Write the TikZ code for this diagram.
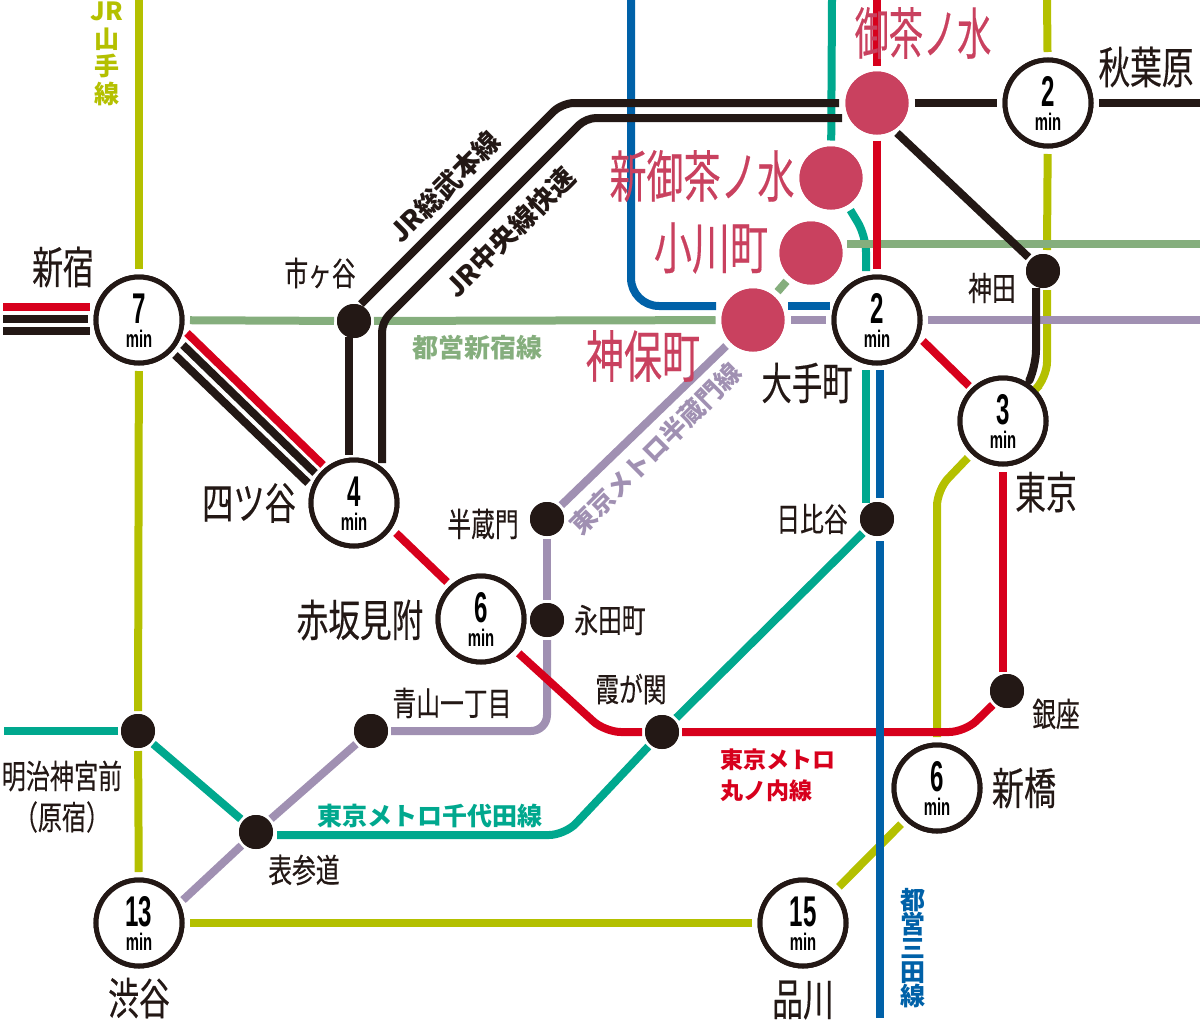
\documentclass[tikz,border=0pt]{standalone}
\usepackage{fontspec}
\usepackage{graphicx}
\setmainfont{Noto Sans CJK JP}
\newfontfamily\stf{Noto Sans CJK JP}[FakeBold=0.35]
\newfontfamily\latinf{Liberation Sans}
\definecolor{lred}{HTML}{D7001C}
\definecolor{lteal}{HTML}{00A88E}
\definecolor{lblue}{HTML}{0061A8}
\definecolor{lyel}{HTML}{B4C000}
\definecolor{lgreen}{HTML}{85AE7D}
\definecolor{lpur}{HTML}{A090B2}
\definecolor{lblk}{HTML}{231815}
\definecolor{lpink}{HTML}{C9415F}
\newcommand\hsq[2]{\scalebox{#1}[1]{#2}}
\newcommand\tmin[1]{\makebox[0pt][c]{\smash{\raisebox{-3pt}{\hsq{.56}{\latinf\bfseries\fontsize{43}{43}\selectfont #1}}}}\makebox[0pt][c]{\smash{\raisebox{-27pt}{\hsq{.62}{\latinf\bfseries\fontsize{24}{24}\selectfont min}}}}}
\tikzset{
  tube/.style={line width=8pt,line cap=butt,line join=round,rounded corners=16pt},
  timest/.style={circle,draw=lblk,fill=white,line width=5pt,minimum size=86pt,inner sep=0pt,outer sep=8pt},
  dotst/.style={circle,fill=lblk,minimum size=34pt,inner sep=0pt,outer sep=3pt},
  pinkst/.style={circle,fill=lpink,minimum size=63pt,inner sep=0pt,outer sep=6pt},
  bigt/.style={inner sep=0pt,text=lblk,font=\stf\fontsize{44}{44}\selectfont},
  midt/.style={inner sep=0pt,text=lblk,font=\stf\fontsize{33}{33}\selectfont},
  pinkt/.style={inner sep=0pt,text=lpink,font=\stf\fontsize{56}{56}\selectfont},
  linet/.style={inner sep=0pt,font=\fontsize{24}{26}\selectfont\bfseries},
}
\begin{document}
\begin{tikzpicture}[x=1pt,y=-1pt]
\useasboundingbox (0,0) rectangle (1200,1023);
\node[timest] (shinjuku) at (139,320) {};
\node[timest] (yotsuya) at (354,503) {};
\node[timest] (akasaka) at (481,619) {};
\node[timest] (otemachi) at (877,320) {};
\node[timest] (tokyo) at (1003,421) {};
\node[timest] (akiba) at (1048,103) {};
\node[timest] (shinbashi) at (937,788) {};
\node[timest] (shibuya) at (139,923) {};
\node[timest] (shinagawa) at (803,923) {};
\node[dotst] (ichigaya) at (354,321) {};
\node[dotst] (kanda) at (1043,271) {};
\node[dotst] (hanzomon) at (547,519) {};
\node[dotst] (nagatacho) at (547,620) {};
\node[dotst] (hibiya) at (877,519) {};
\node[dotst] (ginza) at (1007,691) {};
\node[dotst] (kasumi) at (662,732) {};
\node[dotst] (aoyama) at (371,731) {};
\node[dotst] (omote) at (256,832) {};
\node[dotst] (meiji) at (138,731) {};
\node[pinkst] (ocha) at (877,103) {};
\node[pinkst] (shinocha) at (831,178) {};
\node[pinkst] (ogawa) at (811,253) {};
\node[pinkst] (jimbo) at (753,320) {};
% free ends
\coordinate (ytop) at (139,0);
\coordinate (ytop2) at (1047,0);
\coordinate (ya) at (1047,250);
\coordinate (yb) at (1047,290);
\coordinate (yc) at (1047,378);
\coordinate (yd) at (937,490);
\coordinate (ye) at (937,737);
\coordinate (ta) at (832,0);
\coordinate (tb) at (866,236);
\coordinate (tc) at (866,271);
\coordinate (td) at (866,370);
\coordinate (te) at (866,503);
\coordinate (tf) at (565,835);
\coordinate (tg) at (277,835);
\coordinate (th) at (4,731);
\coordinate (ga) at (847,244);
\coordinate (gb) at (1200,244);
\coordinate (pa) at (1200,320);
\coordinate (pb) at (547,731);
\coordinate (pc) at (183,900);
\coordinate (ra) at (877,0);
\coordinate (rb) at (1003,672);
\coordinate (rc) at (965,732);
\coordinate (rd) at (605,732);
\coordinate (rg) at (923,341);
\coordinate (rh) at (969,386);
\coordinate (ri) at (396,533);
\coordinate (rj) at (447,582);
\coordinate (ba) at (631,0);
\coordinate (bb) at (631,306);
\coordinate (bc) at (716,306);
\coordinate (bd) at (788,306);
\coordinate (be) at (830,306);
\coordinate (bf) at (880,370);
\coordinate (bg) at (880,498);
\coordinate (bh) at (880,541);
\coordinate (bi) at (880,1018);
\coordinate (sa) at (3,307);\coordinate (sb) at (90,307);
\coordinate (sc) at (3,319);\coordinate (sd) at (88,319);
\coordinate (se) at (3,331);\coordinate (sf) at (90,331);
\coordinate (da) at (187,333);\coordinate (db) at (323,465);
\coordinate (dc) at (183,345);\coordinate (dd) at (315,473);
\coordinate (de) at (175,355);\coordinate (df) at (308,483);
\coordinate (ka) at (361,304);\coordinate (kb) at (562,103);\coordinate (kc) at (839,103);
\coordinate (kd) at (382,463);\coordinate (ke) at (382,322);\coordinate (kf) at (586,118);\coordinate (kg) at (842,118);
\coordinate (kh) at (349,337);\coordinate (ki) at (349,455);
\coordinate (kj) at (1200,103);
\coordinate (kl) at (1036,288);\coordinate (km) at (1036,366);\coordinate (kn) at (1030,379);
\coordinate (kp) at (897,133);
% yellow
\draw[tube,lyel] (ytop) -- (shinjuku);
\draw[tube,lyel] (shinjuku) -- (meiji);
\draw[tube,lyel] (meiji) -- (shibuya);
\draw[tube,lyel] (shibuya) -- (shinagawa);
\draw[tube,lyel] (shinagawa) -- (shinbashi);
\draw[tube,lyel] (ye) -- (yd) -- (tokyo);
\draw[tube,lyel] (ytop2) -- (akiba);
\draw[tube,lyel] (akiba) -- (ya);
\draw[tube,lyel] (yb) -- (yc) -- (tokyo);
% teal
\draw[tube,lteal] (ta) -- (shinocha);
\draw[tube,lteal] (shinocha) -- (tb) -- (tc);
\draw[tube,lteal] (td) -- (te);
\draw[tube,lteal] (hibiya) -- (kasumi);
\draw[tube,lteal] (kasumi) -- (tf) -- (tg);
\draw[tube,lteal] (omote) -- (meiji);
\draw[tube,lteal] (meiji) -- (th);
% green
\draw[tube,lgreen] (shinjuku) -- (ichigaya);
\draw[tube,lgreen] (ichigaya) -- (jimbo);
\draw[tube,lgreen] (jimbo) -- (ogawa);
\draw[tube,lgreen] (ga) -- (gb);
% purple
\draw[tube,lpur] (pa) -- (otemachi);
\draw[tube,lpur] (otemachi) -- (jimbo);
\draw[tube,lpur] (jimbo) -- (hanzomon);
\draw[tube,lpur] (hanzomon) -- (nagatacho);
\draw[tube,lpur] (nagatacho) -- (pb) -- (aoyama);
\draw[tube,lpur] (aoyama) -- (omote);
\draw[tube,lpur] (omote) -- (pc);
% red
\draw[tube,lred] (ra) -- (ocha);
\draw[tube,lred] (ocha) -- (otemachi);
\draw[tube,lred] (rg) -- (rh);
\draw[tube,lred] (tokyo) -- (rb);
\draw[tube,lred] (ginza) -- (rc) -- (kasumi);
\draw[tube,lred] (kasumi) -- (rd) -- (akasaka);
\draw[tube,lred] (ri) -- (rj);
\draw[tube,lred] (da) -- (db);
\draw[tube,lred] (sa) -- (sb);
% blue
\draw[tube,lblue,rounded corners=28pt] (ba) -- (bb) -- (bc);
\draw[tube,lblue] (bd) -- (be);
\draw[tube,lblue] (bf) -- (bg);
\draw[tube,lblue] (bh) -- (bi);
% black
\draw[tube,lblk] (sc) -- (sd);
\draw[tube,lblk] (se) -- (sf);
\draw[tube,lblk] (dc) -- (dd);
\draw[tube,lblk] (de) -- (df);
\draw[tube,lblk,rounded corners=12pt] (ka) -- (kb) -- (kc);
\draw[tube,lblk,rounded corners=10pt] (kd) -- (ke) -- (kf) -- (kg);
\draw[tube,lblk] (kh) -- (ki);
\draw[tube,lblk] (ocha) -- (akiba);
\draw[tube,lblk] (akiba) -- (kj);
\draw[tube,lblk] (kp) -- (kanda);
\draw[tube,lblk] (kl) -- (km) -- (kn);
% station faces
\node[timest] at (shinjuku) {\tmin{7}};
\node[timest] at (yotsuya) {\tmin{4}};
\node[timest] at (akasaka) {\tmin{6}};
\node[timest] at (otemachi) {\tmin{2}};
\node[timest] at (tokyo) {\tmin{3}};
\node[timest] at (akiba) {\tmin{2}};
\node[timest] at (shinbashi) {\tmin{6}};
\node[timest] at (shibuya) {\tmin{13}};
\node[timest] at (shinagawa) {\tmin{15}};
\node[dotst] at (ichigaya) {};
\node[dotst] at (kanda) {};
\node[dotst] at (hanzomon) {};
\node[dotst] at (nagatacho) {};
\node[dotst] at (hibiya) {};
\node[dotst] at (ginza) {};
\node[dotst] at (kasumi) {};
\node[dotst] at (aoyama) {};
\node[dotst] at (omote) {};
\node[dotst] at (meiji) {};
\node[pinkst] at (ocha) {};
\node[pinkst] at (shinocha) {};
\node[pinkst] at (ogawa) {};
\node[pinkst] at (jimbo) {};
% big labels
\node[bigt] (t1) at (63,267) {\hsq{.7}{新宿}};
\node[bigt] (t2) at (249,503) {\hsq{.71}{四ツ谷}};
\node[bigt] (t3) at (360,620) {\hsq{.72}{赤坂見附}};
\node[bigt] (t4) at (807,383) {\hsq{.69}{大手町}};
\node[bigt] (t5) at (1046,492) {\hsq{.7}{東京}};
\node[bigt] (t6) at (1146,67) {\hsq{.72}{秋葉原}};
\node[bigt] (t7) at (1024,788) {\hsq{.73}{新橋}};
\node[bigt] (t8) at (139,998) {\hsq{.7}{渋谷}};
\node[bigt] (t9) at (803,1000) {\hsq{.7}{品川}};
% mid labels
\node[midt] (m1) at (320,273) {\hsq{.72}{市ヶ谷}};
\node[midt] (m2) at (483,524) {\hsq{.72}{半蔵門}};
\node[midt] (m3) at (610,620) {\hsq{.72}{永田町}};
\node[midt] (m4) at (452,703) {\hsq{.72}{青山一丁目}};
\node[midt] (m5) at (631,689) {\hsq{.72}{霞が関}};
\node[midt] (m6) at (62,776) {\hsq{.73}{明治神宮前}};
\node[midt] (m7) at (62,817) {\hsq{.73}{（原宿）}};
\node[midt] (m8) at (304,870) {\hsq{.72}{表参道}};
\node[midt] (m9) at (1056,714) {\hsq{.72}{銀座}};
\node[midt] (m10) at (812,519) {\hsq{.72}{日比谷}};
\node[midt] (m11) at (992,288) {\hsq{.72}{神田}};
% pink labels
\node[pinkt] (p1) at (923,33) {\hsq{.61}{御茶ノ水}};
\node[pinkt] (p2) at (702,176) {\hsq{.66}{新御茶ノ水}};
\node[pinkt] (p3) at (711,248) {\hsq{.68}{小川町}};
\node[pinkt] (p4) at (643,356) {\hsq{.68}{神保町}};
% line labels
\node[linet,text=lgreen,font=\fontsize{26}{28}\selectfont\bfseries] (l1) at (477,348) {都営新宿線};
\node[linet,text=lteal,font=\fontsize{25}{26}\selectfont\bfseries] (l2) at (430,816) {東京メトロ千代田線};
\node[linet,text=lred,align=left,font=\fontsize{23}{31}\selectfont\bfseries] (l3) at (778,775) {東京メトロ\\丸ノ内線};
\node[linet,text=lblk,rotate=45,font=\fontsize{27}{28}\selectfont\bfseries] (l4) at (445,187) {JR総武本線};
\node[linet,text=lblk,rotate=45,font=\fontsize{27}{28}\selectfont\bfseries] (l5) at (510,232) {JR中央線快速};
\node[linet,text=lpur,rotate=45,font=\fontsize{25.5}{28}\selectfont\bfseries] (l6) at (656,449) {東京メトロ半蔵門線};
\node[linet,text=lyel,align=center,font=\fontsize{25}{27.5}\selectfont\bfseries] (l7) at (107,54) {JR\\山\\手\\線};
\node[linet,text=lblue,align=center,font=\fontsize{25}{24}\selectfont\bfseries] (l8) at (913,948) {都\\営\\三\\田\\線};
\end{tikzpicture}
\end{document}
